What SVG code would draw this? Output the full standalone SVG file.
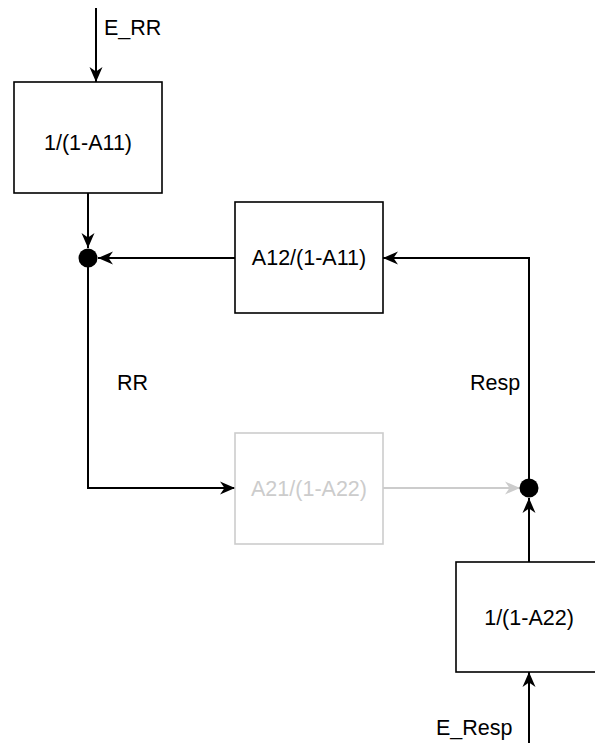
<svg xmlns="http://www.w3.org/2000/svg" width="595" height="747" viewBox="0 0 595 747">
<style>
.box{fill:#fff;stroke:#000;stroke-width:1.6}
.gbox{fill:#fff;stroke:#ccc;stroke-width:1.6}
.lbl{font-family:"Liberation Sans",Arial,sans-serif;font-size:21.5px;fill:#000}
.glbl{font-family:"Liberation Sans",Arial,sans-serif;font-size:21.5px;fill:#ccc}
.e{fill:none;stroke:#000;stroke-width:2}
.ge{fill:none;stroke:#ccc;stroke-width:2}
</style>
<defs>
<marker id="ah" markerUnits="userSpaceOnUse" markerWidth="16" markerHeight="16" viewBox="0 0 16 16" refX="15" refY="8" orient="auto">
<path d="M0,1.5 L15,8 L0,14.5 L4.5,8 z" fill="#000"/>
</marker>
<marker id="gah" markerUnits="userSpaceOnUse" markerWidth="16" markerHeight="16" viewBox="0 0 16 16" refX="15" refY="8" orient="auto">
<path d="M0,1.5 L15,8 L0,14.5 L4.5,8 z" fill="#ccc"/>
</marker>
</defs>
<g id="connectors">
<line class="e" x1="96" y1="8" x2="96" y2="82" marker-end="url(#ah)"/>
<line class="e" x1="88" y1="193" x2="88" y2="248" marker-end="url(#ah)"/>
<line class="e" x1="235" y1="258" x2="98" y2="258" marker-end="url(#ah)"/>
<polyline class="e" points="88,258 88,488 235,488" marker-end="url(#ah)"/>
<line class="ge" x1="383" y1="488" x2="520" y2="488" marker-end="url(#gah)"/>
<line class="e" x1="529" y1="562" x2="529" y2="498" marker-end="url(#ah)"/>
<polyline class="e" points="529,488 529,258 383,258" marker-end="url(#ah)"/>
<line class="e" x1="529" y1="743" x2="529" y2="672" marker-end="url(#ah)"/>
</g>
<g id="sum1"><circle cx="88" cy="258" r="9.5" fill="#000"/></g>
<g id="sum2"><circle cx="529" cy="488" r="9.5" fill="#000"/></g>
<g id="box1">
<rect class="box" x="14" y="82" width="148" height="111"/>
<text class="lbl" x="88" y="144" text-anchor="middle" dominant-baseline="middle">1/(1-A11)</text>
</g>
<g id="box2">
<rect class="box" x="235" y="202" width="148" height="111"/>
<text class="lbl" x="309" y="259" text-anchor="middle" dominant-baseline="middle">A12/(1-A11)</text>
</g>
<g id="box3">
<rect class="gbox" x="235" y="433" width="148" height="111"/>
<text class="glbl" x="309" y="490" text-anchor="middle" dominant-baseline="middle">A21/(1-A22)</text>
</g>
<g id="box4">
<rect class="box" x="456" y="562" width="150" height="110"/>
<text class="lbl" x="529" y="619" text-anchor="middle" dominant-baseline="middle">1/(1-A22)</text>
</g>
<g id="labels">
<text class="lbl" x="104" y="35">E_RR</text>
<text class="lbl" x="117" y="390">RR</text>
<text class="lbl" x="470" y="390">Resp</text>
<text class="lbl" x="436" y="735">E_Resp</text>
</g>
</svg>
